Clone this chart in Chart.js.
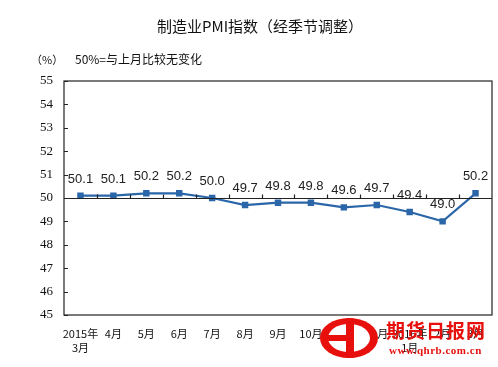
<!DOCTYPE html>
<html>
<head>
<meta charset="utf-8">
<script src="https://cdn.jsdelivr.net/npm/chart.js@4.4.0/dist/chart.umd.min.js"></script>
<style>
  html, body { margin: 0; padding: 0; background: #fff; }
  #wrap { position: relative; width: 498px; height: 367px; overflow: hidden; }
  #chart { position: absolute; left: 0; top: 0; }
  .txt { position: absolute; white-space: nowrap; font-family: "Noto Sans CJK SC", sans-serif; color: #111; }
  #title { left: 0; width: 520px; top: 15px; text-align: center; font-size: 15px; }
  #unit { left: 31px; top: 51px; font-size: 11px; }
  #note { left: 75px; top: 50px; font-size: 12px; }
  #logo { position: absolute; left: 320px; top: 318px; width: 58px; height: 40px; border-radius: 50%; background: #e8100c; overflow: hidden; }
  #logo .in { position: absolute; left: 8px; top: 6px; width: 42px; height: 28px; border-radius: 50%; background: #fff; }
  #logo .v { position: absolute; left: 26px; top: 0; width: 8px; height: 40px; background: #e8100c; }
  #logo .h { position: absolute; left: 4px; top: 17px; width: 30px; height: 6px; background: #e8100c; }
  #brand { left: 386px; top: 316px; font-size: 19px; font-weight: bold; color: #e8100c; letter-spacing: 1px; }
  #site { left: 389px; top: 344px; font-size: 11px; font-weight: bold; color: #e8100c; font-family: "Liberation Serif", serif; letter-spacing: 0.5px; }
</style>
</head>
<body>
<div id="wrap">
  <canvas id="chart" width="498" height="367"></canvas>
  <div class="txt" id="title">制造业PMI指数（经季节调整）</div>
  <div class="txt" id="unit">（%）</div>
  <div class="txt" id="note">50%=与上月比较无变化</div>
  <div id="logo"><div class="in"></div><div class="v"></div><div class="h"></div></div>
  <div class="txt" id="brand">期货日报网</div>
  <div class="txt" id="site">www.qhrb.com.cn</div>
</div>
<script>
var months = [["2015年", "3月"], "4月", "5月", "6月", "7月", "8月", "9月", "10月", "11月", "12月", ["2016年", "1月"], "2月", "3月"];
var pmiValues = [50.1, 50.1, 50.2, 50.2, 50.0, 49.7, 49.8, 49.8, 49.6, 49.7, 49.4, 49.0, 50.2];
var yTicks = [45, 46, 47, 48, 49, 50, 51, 52, 53, 54, 55];

var lineColor = "#2a66a8";

// frame, baseline at 50 with ticks, inward y ticks, value labels
var decor = {
    id: "decor",
    afterDatasetsDraw: function (chart) {
        var ctx = chart.ctx;
        var area = chart.chartArea;
        var y = chart.scales.y;
        ctx.save();
        ctx.strokeStyle = "#222";
        ctx.lineWidth = 1.2;
        ctx.strokeRect(area.left, area.top, area.right - area.left, area.bottom - area.top);

        var y50 = Math.round(y.getPixelForValue(50)) + 0.5;
        ctx.beginPath();
        ctx.moveTo(area.left, y50);
        ctx.lineTo(area.right, y50);
        var step = (area.right - area.left) / months.length;
        for (var i = 1; i < months.length; i++) {
            var bx = Math.round(area.left + step * i) + 0.5;
            ctx.moveTo(bx, y50);
            ctx.lineTo(bx, y50 - 4);
        }
        yTicks.forEach(function (v) {
            var py = Math.round(y.getPixelForValue(v)) + 0.5;
            ctx.moveTo(area.left, py);
            ctx.lineTo(area.left + 4, py);
        });
        ctx.stroke();

        ctx.fillStyle = "#222";
        ctx.font = "13px 'Liberation Sans', Arial, sans-serif";
        ctx.textAlign = "center";
        ctx.textBaseline = "bottom";
        var meta = chart.getDatasetMeta(0);
        meta.data.forEach(function (pt, i) {
            ctx.fillText(pmiValues[i].toFixed(1), pt.x, pt.y - 10);
        });
        ctx.restore();
    }
};

var ctx = document.getElementById("chart").getContext("2d");
var chart = new Chart(ctx, {
    type: "line",
    data: {
        labels: months,
        datasets: [{
            data: pmiValues,
            borderColor: lineColor,
            backgroundColor: lineColor,
            borderWidth: 2.2,
            pointStyle: "rect",
            pointRadius: 3,
            pointHoverRadius: 3,
            tension: 0
        }]
    },
    options: {
        responsive: false,
        animation: false,
        layout: { padding: { left: 0, right: 6, top: 81, bottom: 0 } },
        plugins: {
            legend: { display: false },
            tooltip: { enabled: false }
        },
        scales: {
            x: {
                offset: true,
                grid: { display: false, drawTicks: false },
                border: { display: false },
                ticks: {
                    color: "#111",
                    padding: 12,
                    maxRotation: 0,
                    autoSkip: false,
                    font: { family: "'Noto Sans CJK SC', sans-serif", size: 11, lineHeight: 1.25 }
                },
                afterFit: function (scale) { scale.height = 52; }
            },
            y: {
                min: 45,
                max: 55,
                grid: { display: false, drawTicks: false },
                border: { display: false },
                ticks: {
                    stepSize: 1,
                    padding: 11,
                    color: "#111",
                    font: { family: "'Liberation Serif', 'Times New Roman', serif", size: 13 }
                },
                afterFit: function (scale) { scale.width = 64; }
            }
        }
    },
    plugins: [decor]
});
</script>
</body>
</html>
